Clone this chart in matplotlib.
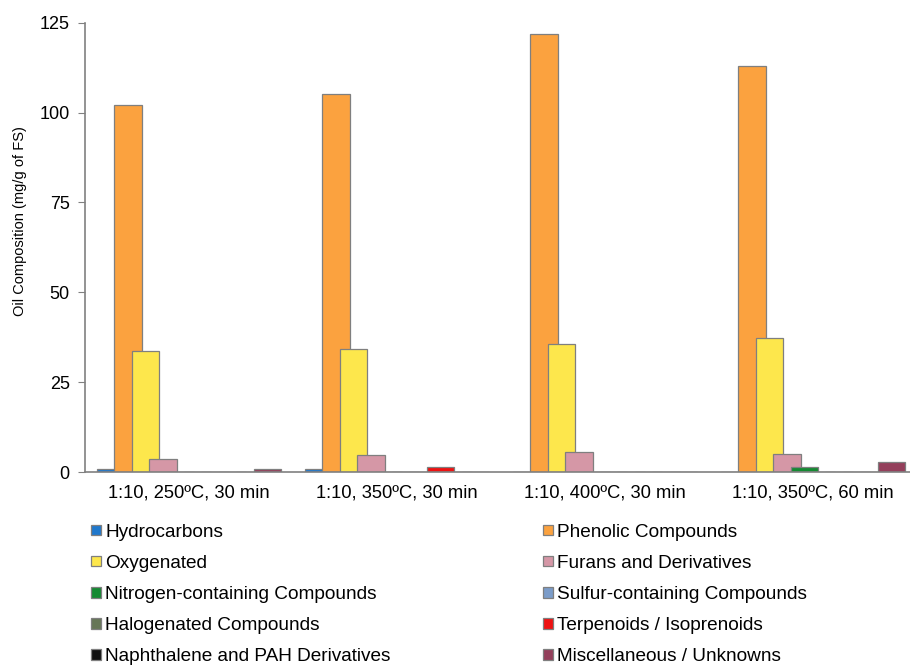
import matplotlib.pyplot as plt
import numpy as np

plt.rcParams['font.family'] = ['Liberation Sans', 'DejaVu Sans']

conditions = ['1:10, 250ºC, 30 min', '1:10, 350ºC, 30 min',
              '1:10, 400ºC, 30 min', '1:10, 350ºC, 60 min']

# mg/g of FS, one list per compound class
hydrocarbons = [0.9, 0.8, 0.0, 0.0]
phenolic = [102.1, 105.2, 121.8, 112.9]
oxygenated = [33.7, 34.1, 35.6, 37.2]
furans = [3.6, 4.7, 5.5, 4.9]
nitrogen = [0.0, 0.0, 0.0, 1.3]
sulfur = [0.0, 0.0, 0.0, 0.0]
halogenated = [0.0, 0.0, 0.0, 0.0]
terpenoids = [0.0, 1.3, 0.0, 0.0]
naphthalene = [0.0, 0.0, 0.0, 0.0]
misc = [0.9, 0.0, 0.0, 2.8]

series = [
    ('Hydrocarbons', hydrocarbons, '#1f78cc'),
    ('Phenolic Compounds', phenolic, '#fba23f'),
    ('Oxygenated', oxygenated, '#fde74c'),
    ('Furans and Derivatives', furans, '#d597a6'),
    ('Nitrogen-containing Compounds', nitrogen, '#148a32'),
    ('Sulfur-containing Compounds', sulfur, '#7b9cc9'),
    ('Halogenated Compounds', halogenated, '#667657'),
    ('Terpenoids / Isoprenoids', terpenoids, '#ee1111'),
    ('Naphthalene and PAH Derivatives', naphthalene, '#111111'),
    ('Miscellaneous / Unknowns', misc, '#943f5b'),
]

fig = plt.figure(figsize=(9.1, 6.65), dpi=100)
ax = fig.add_axes([0.0934, 0.2902, 0.9143, 0.6757])

x = np.arange(len(conditions))
step = 0.0837
width = 0.132
handles = {}
for i, (name, vals, col) in enumerate(series):
    h = ax.bar(x + (i - 4.5) * step, vals, width, color=col,
               edgecolor='#7f7f7f', linewidth=0.9, label=name)
    handles[name] = h

ax.set_xlim(-0.5, 3.5)
ax.set_ylim(0, 125)
ax.set_yticks([0, 25, 50, 75, 100, 125])
ax.set_xticks(x)
ax.set_xticklabels(conditions, fontsize=13.2)
ax.tick_params(axis='y', labelsize=13, length=5, color='#808080', pad=6)
ax.tick_params(axis='x', length=0, pad=9)
for s in ['top', 'right']:
    ax.spines[s].set_visible(False)
for s in ['left', 'bottom']:
    ax.spines[s].set_color('#808080')
    ax.spines[s].set_linewidth(1.2)
ax.set_ylabel('Oil Composition (mg/g of FS)', fontsize=10.5)
ax.yaxis.set_label_coords(-0.070, 0.559)

left_names = [s[0] for s in series[0::2]]
right_names = [s[0] for s in series[1::2]]
kw = dict(frameon=False, fontsize=13.7, handlelength=0.56, handleheight=0.47,
          handletextpad=0.2, labelspacing=0.74, borderaxespad=0)
fig.legend([handles[n] for n in left_names], left_names,
           loc='upper left', bbox_to_anchor=(0.0912, 0.2236), **kw)
fig.legend([handles[n] for n in right_names], right_names,
           loc='upper left', bbox_to_anchor=(0.588, 0.2236), **kw)

fig.savefig('out.png', dpi=100)
